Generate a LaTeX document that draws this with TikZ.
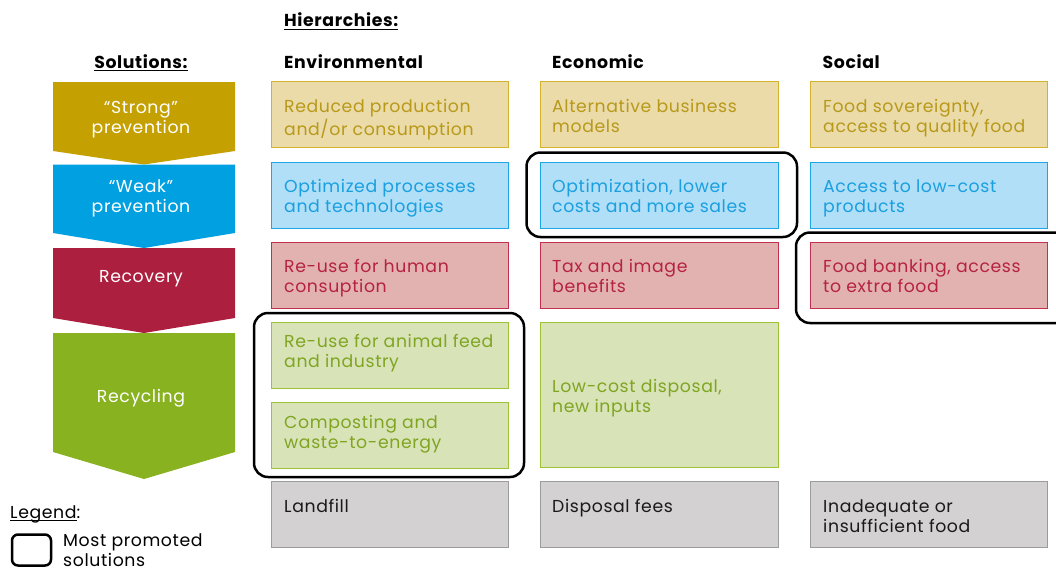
\documentclass[tikz,border=0pt]{standalone}
\usepackage{fontspec}
\setmainfont[LetterSpace=3.5]{Poppins}
\newcommand\myul[1]{\setbox0\hbox{#1}\rlap{\rule[-3.4pt]{\wd0}{1.3pt}}\box0}
\definecolor{agold}{HTML}{C4A000}
\definecolor{ablue}{HTML}{00A0E1}
\definecolor{ared}{HTML}{AD1F3F}
\definecolor{agreen}{HTML}{88B21F}
\definecolor{yfill}{HTML}{EADBA9}
\definecolor{yline}{HTML}{D4B22E}
\definecolor{ytext}{HTML}{B8991A}
\definecolor{bfill}{HTML}{B1DFF7}
\definecolor{bline}{HTML}{1DA5E5}
\definecolor{btext}{HTML}{1A9FDF}
\definecolor{rfill}{HTML}{E2B2B1}
\definecolor{rline}{HTML}{C1304F}
\definecolor{rtext}{HTML}{B5233F}
\definecolor{gfill}{HTML}{D9E3B8}
\definecolor{gline}{HTML}{9DC236}
\definecolor{gtext}{HTML}{7FA522}
\definecolor{kfill}{HTML}{D3D1D2}
\definecolor{kline}{HTML}{9D9C9C}
\definecolor{ktext}{HTML}{1A1A1A}
\tikzset{
  cbox/.style={draw, line width=1.2pt, inner sep=0pt, anchor=north west, minimum height=66pt},
  ybox/.style={cbox, fill=yfill, draw=yline},
  bbox/.style={cbox, fill=bfill, draw=bline},
  rbox/.style={cbox, fill=rfill, draw=rline},
  gbox/.style={cbox, fill=gfill, draw=gline},
  kbox/.style={cbox, fill=kfill, draw=kline},
  txt/.style={anchor=north west, inner sep=0pt, align=left},
  alab/.style={anchor=north, inner sep=0pt, align=center, text=white},
  ttl/.style={inner sep=0pt, font=\fontsize{17.3}{20}\selectfont\bfseries},
  promo/.style={draw=black, line width=2.5pt, rounded corners=14pt},
}
\begin{document}
\begin{tikzpicture}[x=1pt,y=-1pt, font=\fontsize{17.3}{20}\selectfont]
\useasboundingbox (0,0) rectangle (1056,568);

% arrows
\fill[agold] (53,82) -- (235,82) -- (235,151) -- (144,164.5) -- (53,151) -- cycle;
\fill[ablue] (53,164.5) -- (235,164.5) -- (235,233) -- (144,248) -- (53,233) -- cycle;
\fill[ared] (53,248) -- (235,248) -- (235,318) -- (144,333) -- (53,318) -- cycle;
\fill[agreen] (53,333) -- (235,333) -- (235,452) -- (144,479) -- (53,452) -- cycle;
\node[alab] (a1) at (141,99) {\strut “Strong”\\prevention};
\node[alab] (a2) at (141,178) {\strut “Weak”\\prevention};
\node[alab] (a3) at (141,268) {\strut Recovery};
\node[alab] (a4) at (141,388) {\strut Recycling};

% titles
\node[ttl, anchor=base west] (hier) at (284,26.7) {\myul{Hierarchies:}};
\node[ttl, anchor=base] (sol) at (141,68) {\myul{Solutions:}};
\node[ttl, anchor=base west] (env) at (284,68.5) {Environmental};
\node[ttl, anchor=base west] (eco) at (552,68.5) {Economic};
\node[ttl, anchor=base west] (soc) at (822.5,68.5) {Social};

% environmental column
\node[ybox, minimum width=237pt] (e1) at (271,81) {};
\node[bbox, minimum width=237pt] (e2) at (271,162) {};
\node[rbox, minimum width=237pt] (e3) at (271,242) {};
\node[gbox, minimum width=237pt] (e4) at (271,322) {};
\node[gbox, minimum width=237pt] (e5) at (271,402) {};
\node[kbox, minimum width=237pt] (e6) at (271,481) {};
\node[txt, text=ytext] (te1) at (284,98) {\strut Reduced production\\and/or consumption};
\node[txt, text=btext] (te2) at (284,178) {\strut Optimized processes\\and technologies};
\node[txt, text=rtext] (te3) at (284,258.5) {\strut Re-use for human\\consuption};
\node[txt, text=gtext] (te4) at (284,333.5) {\strut Re-use for animal feed\\and industry};
\node[txt, text=gtext] (te5) at (284,414.5) {\strut Composting and\\waste-to-energy};
\node[txt, text=ktext] (te6) at (284,498.5) {\strut Landfill};

% economic column
\node[ybox, minimum width=238pt] (c1) at (540,81) {};
\node[bbox, minimum width=238pt] (c2) at (540,162) {};
\node[rbox, minimum width=238pt] (c3) at (540,242) {};
\node[gbox, minimum width=238pt, minimum height=145pt] (c4) at (540,322) {};
\node[kbox, minimum width=238pt] (c6) at (540,481) {};
\node[txt, text=ytext] (tc1) at (552,98) {\strut Alternative business\\models};
\node[txt, text=btext] (tc2) at (552,178) {\strut Optimization, lower\\costs and more sales};
\node[txt, text=rtext] (tc3) at (552,258.5) {\strut Tax and image\\benefits};
\node[txt, text=gtext] (tc4) at (552,378) {\strut Low-cost disposal,\\new inputs};
\node[txt, text=ktext] (tc6) at (552,498.5) {\strut Disposal fees};

% social column
\node[ybox, minimum width=237pt] (s1) at (810,81) {};
\node[bbox, minimum width=237pt] (s2) at (810,162) {};
\node[rbox, minimum width=237pt] (s3) at (810,242) {};
\node[kbox, minimum width=237pt] (s6) at (810,481) {};
\node[txt, text=ytext] (ts1) at (823,98) {\strut Food sovereignty,\\access to quality food};
\node[txt, text=btext] (ts2) at (823,178) {\strut Access to low-cost\\products};
\node[txt, text=rtext] (ts3) at (823,258.5) {\strut Food banking, access\\to extra food};
\node[txt, text=ktext] (ts6) at (823,498.5) {\strut Inadequate or\\insufficient food};

% most promoted outlines
\draw[promo] (254,313) rectangle (524,477);
\draw[promo] (526.5,152.5) rectangle (797,237);
\draw[promo] (796,232.5) rectangle (1075,323);

% legend
\node[anchor=base west, inner sep=0pt] (leg) at (10,518) {\myul{Legend}:};
\draw[promo, rounded corners=6pt] (12,534.5) rectangle (51,565.5);
\node[txt] (legt) at (63,532.7) {\strut Most promoted\\solutions};
\end{tikzpicture}
\end{document}
